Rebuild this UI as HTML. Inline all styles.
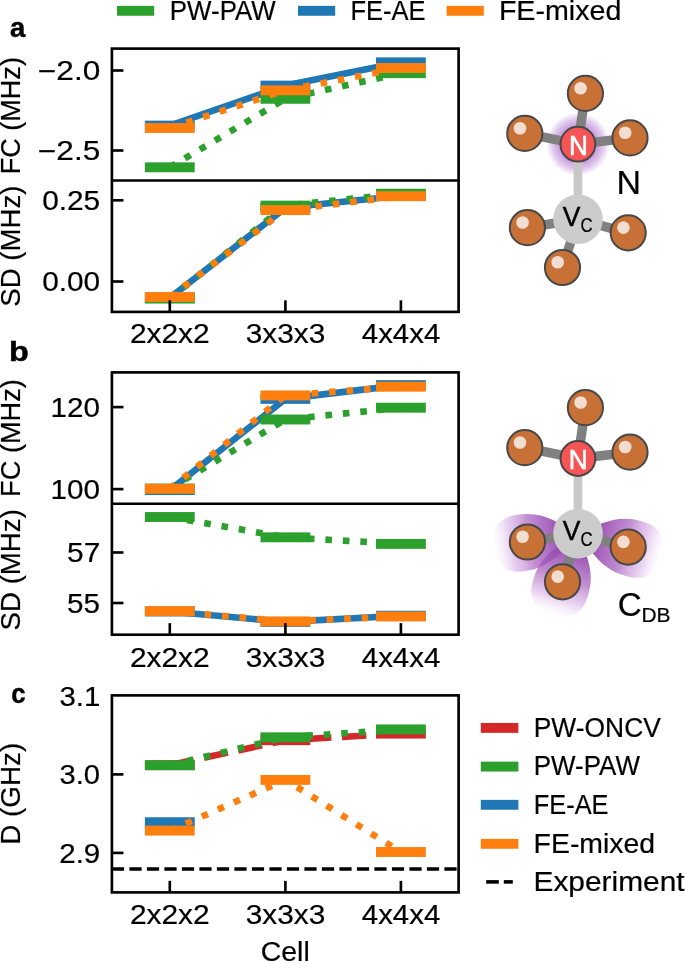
<!DOCTYPE html><html><head><meta charset="utf-8"><style>html,body{margin:0;padding:0;background:#fff;}svg{display:block;will-change:transform;}text{font-family:"Liberation Sans",sans-serif;}</style></head><body>
<svg width="685" height="963" viewBox="0 0 685 963">
<defs>
<radialGradient id="glow"><stop offset="0.55" stop-color="#b47ed4" stop-opacity="0.8"/><stop offset="0.8" stop-color="#c89ee0" stop-opacity="0.55"/><stop offset="0.93" stop-color="#dcc0ec" stop-opacity="0.3"/><stop offset="1" stop-color="#eee0f6" stop-opacity="0"/></radialGradient>
<linearGradient id="lobeg" gradientUnits="objectBoundingBox" x1="0" y1="0" x2="1" y2="0"><stop offset="0.2" stop-color="#9448ac" stop-opacity="0.95"/><stop offset="0.55" stop-color="#a860c0" stop-opacity="0.72"/><stop offset="0.8" stop-color="#c890dc" stop-opacity="0.42"/><stop offset="1" stop-color="#e8c8f4" stop-opacity="0"/></linearGradient>
</defs>
<rect width="685" height="963" fill="#fff"/>
<rect x="117" y="5.85" width="37.2" height="9.9" fill="#2ca02c"/>
<rect x="298" y="5.85" width="37.2" height="9.9" fill="#1f77b4"/>
<rect x="446.6" y="5.85" width="37.2" height="9.9" fill="#ff7f0e"/>
<rect x="144.90" y="120.65" width="49.80" height="9.90" fill="#1f77b4"/>
<rect x="260.50" y="80.65" width="49.80" height="9.90" fill="#1f77b4"/>
<rect x="376.00" y="57.35" width="49.80" height="9.90" fill="#1f77b4"/>
<polyline points="169.80,125.60 285.40,85.60 400.90,62.30" fill="none" stroke="#1f77b4" stroke-width="6.6" stroke-linejoin="round"/>
<rect x="144.90" y="162.35" width="49.80" height="9.90" fill="#2ca02c"/>
<rect x="260.50" y="93.85" width="49.80" height="9.90" fill="#2ca02c"/>
<rect x="376.00" y="68.25" width="49.80" height="9.90" fill="#2ca02c"/>
<polyline points="169.80,167.30 285.40,98.80 400.90,73.20" fill="none" stroke="#2ca02c" stroke-width="6.6" stroke-linejoin="round" stroke-dasharray="6.60 10.89"/>
<rect x="144.90" y="123.05" width="49.80" height="9.90" fill="#ff7f0e"/>
<rect x="260.50" y="85.35" width="49.80" height="9.90" fill="#ff7f0e"/>
<rect x="376.00" y="63.05" width="49.80" height="9.90" fill="#ff7f0e"/>
<polyline points="169.80,128.00 285.40,90.30 400.90,68.00" fill="none" stroke="#ff7f0e" stroke-width="6.6" stroke-linejoin="round" stroke-dasharray="6.60 10.89"/>
<rect x="144.90" y="292.85" width="49.80" height="9.90" fill="#1f77b4"/>
<rect x="260.50" y="202.85" width="49.80" height="9.90" fill="#1f77b4"/>
<rect x="376.00" y="190.85" width="49.80" height="9.90" fill="#1f77b4"/>
<polyline points="169.80,297.80 285.40,207.80 400.90,195.80" fill="none" stroke="#1f77b4" stroke-width="6.6" stroke-linejoin="round"/>
<rect x="144.90" y="293.65" width="49.80" height="9.90" fill="#2ca02c"/>
<rect x="260.50" y="200.65" width="49.80" height="9.90" fill="#2ca02c"/>
<rect x="376.00" y="188.75" width="49.80" height="9.90" fill="#2ca02c"/>
<polyline points="169.80,298.60 285.40,205.60 400.90,193.70" fill="none" stroke="#2ca02c" stroke-width="6.6" stroke-linejoin="round" stroke-dasharray="6.60 10.89"/>
<rect x="144.90" y="292.05" width="49.80" height="9.90" fill="#ff7f0e"/>
<rect x="260.50" y="205.15" width="49.80" height="9.90" fill="#ff7f0e"/>
<rect x="376.00" y="191.25" width="49.80" height="9.90" fill="#ff7f0e"/>
<polyline points="169.80,297.00 285.40,210.10 400.90,196.20" fill="none" stroke="#ff7f0e" stroke-width="6.6" stroke-linejoin="round" stroke-dasharray="6.60 10.89"/>
<line x1="111.9" y1="180.5" x2="458.6" y2="180.5" stroke="#000" stroke-width="2.64"/>
<rect x="111.90" y="48.60" width="346.70" height="263.30" fill="none" stroke="#000" stroke-width="2.64"/>
<line x1="111.90" y1="70.50" x2="123.45" y2="70.50" stroke="#000" stroke-width="2.64"/>
<line x1="111.90" y1="150.50" x2="123.45" y2="150.50" stroke="#000" stroke-width="2.64"/>
<line x1="111.90" y1="200.30" x2="123.45" y2="200.30" stroke="#000" stroke-width="2.64"/>
<line x1="111.90" y1="281.50" x2="123.45" y2="281.50" stroke="#000" stroke-width="2.64"/>
<line x1="169.80" y1="311.90" x2="169.80" y2="300.35" stroke="#000" stroke-width="2.64"/>
<line x1="285.40" y1="311.90" x2="285.40" y2="300.35" stroke="#000" stroke-width="2.64"/>
<line x1="400.90" y1="311.90" x2="400.90" y2="300.35" stroke="#000" stroke-width="2.64"/>
<rect x="144.90" y="485.15" width="49.80" height="9.90" fill="#1f77b4"/>
<rect x="260.50" y="393.95" width="49.80" height="9.90" fill="#1f77b4"/>
<rect x="376.00" y="380.15" width="49.80" height="9.90" fill="#1f77b4"/>
<polyline points="169.80,490.10 285.40,398.90 400.90,385.10" fill="none" stroke="#1f77b4" stroke-width="6.6" stroke-linejoin="round"/>
<rect x="144.90" y="483.55" width="49.80" height="9.90" fill="#2ca02c"/>
<rect x="260.50" y="414.55" width="49.80" height="9.90" fill="#2ca02c"/>
<rect x="376.00" y="402.75" width="49.80" height="9.90" fill="#2ca02c"/>
<polyline points="169.80,488.50 285.40,419.50 400.90,407.70" fill="none" stroke="#2ca02c" stroke-width="6.6" stroke-linejoin="round" stroke-dasharray="6.60 10.89"/>
<rect x="144.90" y="483.85" width="49.80" height="9.90" fill="#ff7f0e"/>
<rect x="260.50" y="390.45" width="49.80" height="9.90" fill="#ff7f0e"/>
<rect x="376.00" y="381.75" width="49.80" height="9.90" fill="#ff7f0e"/>
<polyline points="169.80,488.80 285.40,395.40 400.90,386.70" fill="none" stroke="#ff7f0e" stroke-width="6.6" stroke-linejoin="round" stroke-dasharray="6.60 10.89"/>
<rect x="144.90" y="606.55" width="49.80" height="9.90" fill="#1f77b4"/>
<rect x="260.50" y="616.95" width="49.80" height="9.90" fill="#1f77b4"/>
<rect x="376.00" y="610.75" width="49.80" height="9.90" fill="#1f77b4"/>
<polyline points="169.80,611.50 285.40,621.90 400.90,615.70" fill="none" stroke="#1f77b4" stroke-width="6.6" stroke-linejoin="round"/>
<rect x="144.90" y="512.05" width="49.80" height="9.90" fill="#2ca02c"/>
<rect x="260.50" y="532.35" width="49.80" height="9.90" fill="#2ca02c"/>
<rect x="376.00" y="538.95" width="49.80" height="9.90" fill="#2ca02c"/>
<polyline points="169.80,517.00 285.40,537.30 400.90,543.90" fill="none" stroke="#2ca02c" stroke-width="6.6" stroke-linejoin="round" stroke-dasharray="6.60 10.89"/>
<rect x="144.90" y="606.15" width="49.80" height="9.90" fill="#ff7f0e"/>
<rect x="260.50" y="616.45" width="49.80" height="9.90" fill="#ff7f0e"/>
<rect x="376.00" y="611.55" width="49.80" height="9.90" fill="#ff7f0e"/>
<polyline points="169.80,611.10 285.40,621.40 400.90,616.50" fill="none" stroke="#ff7f0e" stroke-width="6.6" stroke-linejoin="round" stroke-dasharray="6.60 10.89"/>
<line x1="111.9" y1="503.8" x2="458.6" y2="503.8" stroke="#000" stroke-width="2.64"/>
<rect x="111.90" y="372.40" width="346.70" height="262.30" fill="none" stroke="#000" stroke-width="2.64"/>
<line x1="111.90" y1="407.10" x2="123.45" y2="407.10" stroke="#000" stroke-width="2.64"/>
<line x1="111.90" y1="489.10" x2="123.45" y2="489.10" stroke="#000" stroke-width="2.64"/>
<line x1="111.90" y1="552.50" x2="123.45" y2="552.50" stroke="#000" stroke-width="2.64"/>
<line x1="111.90" y1="603.00" x2="123.45" y2="603.00" stroke="#000" stroke-width="2.64"/>
<line x1="169.80" y1="634.70" x2="169.80" y2="623.15" stroke="#000" stroke-width="2.64"/>
<line x1="285.40" y1="634.70" x2="285.40" y2="623.15" stroke="#000" stroke-width="2.64"/>
<line x1="400.90" y1="634.70" x2="400.90" y2="623.15" stroke="#000" stroke-width="2.64"/>
<rect x="144.90" y="760.25" width="49.80" height="9.90" fill="#d62728"/>
<rect x="260.50" y="735.25" width="49.80" height="9.90" fill="#d62728"/>
<rect x="376.00" y="728.65" width="49.80" height="9.90" fill="#d62728"/>
<polyline points="169.80,765.20 285.40,740.20 400.90,733.60" fill="none" stroke="#d62728" stroke-width="6.6" stroke-linejoin="round" stroke-dasharray="24.42 10.56"/>
<rect x="144.90" y="817.25" width="49.80" height="9.90" fill="#1f77b4"/>
<rect x="144.90" y="760.25" width="49.80" height="9.90" fill="#2ca02c"/>
<rect x="260.50" y="732.35" width="49.80" height="9.90" fill="#2ca02c"/>
<rect x="376.00" y="724.45" width="49.80" height="9.90" fill="#2ca02c"/>
<polyline points="169.80,765.20 285.40,737.30 400.90,729.40" fill="none" stroke="#2ca02c" stroke-width="6.6" stroke-linejoin="round" stroke-dasharray="6.60 10.89"/>
<rect x="144.90" y="825.65" width="49.80" height="9.90" fill="#ff7f0e"/>
<rect x="260.50" y="774.95" width="49.80" height="9.90" fill="#ff7f0e"/>
<rect x="376.00" y="847.05" width="49.80" height="9.90" fill="#ff7f0e"/>
<polyline points="169.80,830.60 285.40,779.90 400.90,852.00" fill="none" stroke="#ff7f0e" stroke-width="6.6" stroke-linejoin="round" stroke-dasharray="6.60 10.89"/>
<line x1="111.9" y1="869.0" x2="458.6" y2="869.0" stroke="#000" stroke-width="3.3" stroke-dasharray="12.2 5.3"/>
<rect x="111.90" y="695.40" width="346.70" height="197.00" fill="none" stroke="#000" stroke-width="2.64"/>
<line x1="111.90" y1="774.40" x2="123.45" y2="774.40" stroke="#000" stroke-width="2.64"/>
<line x1="111.90" y1="852.90" x2="123.45" y2="852.90" stroke="#000" stroke-width="2.64"/>
<line x1="169.80" y1="892.40" x2="169.80" y2="880.85" stroke="#000" stroke-width="2.64"/>
<line x1="285.40" y1="892.40" x2="285.40" y2="880.85" stroke="#000" stroke-width="2.64"/>
<line x1="400.90" y1="892.40" x2="400.90" y2="880.85" stroke="#000" stroke-width="2.64"/>
<rect x="480.8" y="722.95" width="37.6" height="9.9" fill="#d62728"/>
<rect x="480.8" y="761.65" width="37.6" height="9.9" fill="#2ca02c"/>
<rect x="480.8" y="799.85" width="37.6" height="9.9" fill="#1f77b4"/>
<rect x="480.8" y="838.85" width="37.6" height="9.9" fill="#ff7f0e"/>
<rect x="486.2" y="880.1" width="12.6" height="3.6" fill="#000"/>
<rect x="503.8" y="880.1" width="9.0" height="3.6" fill="#000"/>
<circle cx="577.9" cy="144.2" r="32" fill="url(#glow)"/>
<line x1="577.9" y1="144.2" x2="585.4" y2="93.4" stroke="#808080" stroke-width="9.5"/>
<line x1="577.9" y1="144.2" x2="524.8" y2="133.4" stroke="#808080" stroke-width="9.5"/>
<line x1="577.9" y1="144.2" x2="630.0" y2="137.9" stroke="#808080" stroke-width="9.5"/>
<line x1="578.0" y1="219.3" x2="527.4" y2="227.7" stroke="#808080" stroke-width="9.5"/>
<line x1="578.0" y1="219.3" x2="628.2" y2="232.8" stroke="#808080" stroke-width="9.5"/>
<line x1="578.0" y1="219.3" x2="562.5" y2="267.5" stroke="#808080" stroke-width="9.5"/>
<line x1="577.9" y1="144.2" x2="578.0" y2="219.3" stroke="#c8c8c8" stroke-width="8.6"/>
<circle cx="585.40" cy="93.40" r="17.6" fill="#c87137" stroke="#484848" stroke-width="2"/>
<circle cx="580.60" cy="88.20" r="6.3" fill="#f3ddd0"/>
<circle cx="524.80" cy="133.40" r="17.6" fill="#c87137" stroke="#484848" stroke-width="2"/>
<circle cx="520.00" cy="128.20" r="6.3" fill="#f3ddd0"/>
<circle cx="630.00" cy="137.90" r="17.6" fill="#c87137" stroke="#484848" stroke-width="2"/>
<circle cx="625.20" cy="132.70" r="6.3" fill="#f3ddd0"/>
<circle cx="527.40" cy="227.70" r="17.6" fill="#c87137" stroke="#484848" stroke-width="2"/>
<circle cx="522.60" cy="222.50" r="6.3" fill="#f3ddd0"/>
<circle cx="628.20" cy="232.80" r="17.6" fill="#c87137" stroke="#484848" stroke-width="2"/>
<circle cx="623.40" cy="227.60" r="6.3" fill="#f3ddd0"/>
<circle cx="562.50" cy="267.50" r="17.6" fill="#c87137" stroke="#484848" stroke-width="2"/>
<circle cx="557.70" cy="262.30" r="6.3" fill="#f3ddd0"/>
<circle cx="577.9" cy="144.2" r="17.4" fill="#f75456" stroke="#484848" stroke-width="2"/>
<circle cx="578.0" cy="219.3" r="24.8" fill="#cccccc"/>
<path transform="translate(578.00,533.60) rotate(170.57)" d="M 0 0 C 20.1 -15.7, 31.5 -28.5, 57.3 -28.5 C 81.3 -28.5, 85.3 -14.2, 85.3 0 C 85.3 14.2, 81.3 28.5, 57.3 28.5 C 31.5 28.5, 20.1 15.7, 0 0 Z" fill="url(#lobeg)"/>
<path transform="translate(578.00,533.60) rotate(15.05)" d="M 0 0 C 20.3 -15.7, 31.9 -28.5, 58.0 -28.5 C 82.0 -28.5, 86.0 -14.2, 86.0 0 C 86.0 14.2, 82.0 28.5, 58.0 28.5 C 31.9 28.5, 20.3 15.7, 0 0 Z" fill="url(#lobeg)"/>
<path transform="translate(578.00,533.60) rotate(107.83)" d="M 0 0 C 19.8 -15.7, 31.1 -28.5, 56.6 -28.5 C 80.6 -28.5, 84.6 -14.2, 84.6 0 C 84.6 14.2, 80.6 28.5, 56.6 28.5 C 31.1 28.5, 19.8 15.7, 0 0 Z" fill="url(#lobeg)"/>
<line x1="577.9" y1="458.5" x2="585.4" y2="407.70000000000005" stroke="#808080" stroke-width="9.5"/>
<line x1="577.9" y1="458.5" x2="524.8" y2="447.70000000000005" stroke="#808080" stroke-width="9.5"/>
<line x1="577.9" y1="458.5" x2="630.0" y2="452.20000000000005" stroke="#808080" stroke-width="9.5"/>
<line x1="578.0" y1="533.6" x2="527.4" y2="542.0" stroke="#808080" stroke-width="9.5"/>
<line x1="578.0" y1="533.6" x2="628.2" y2="547.1" stroke="#808080" stroke-width="9.5"/>
<line x1="578.0" y1="533.6" x2="562.5" y2="581.8" stroke="#808080" stroke-width="9.5"/>
<line x1="577.9" y1="458.5" x2="578.0" y2="533.6" stroke="#c8c8c8" stroke-width="8.6"/>
<circle cx="585.40" cy="407.70" r="17.6" fill="#c87137" stroke="#484848" stroke-width="2"/>
<circle cx="580.60" cy="402.50" r="6.3" fill="#f3ddd0"/>
<circle cx="524.80" cy="447.70" r="17.6" fill="#c87137" stroke="#484848" stroke-width="2"/>
<circle cx="520.00" cy="442.50" r="6.3" fill="#f3ddd0"/>
<circle cx="630.00" cy="452.20" r="17.6" fill="#c87137" stroke="#484848" stroke-width="2"/>
<circle cx="625.20" cy="447.00" r="6.3" fill="#f3ddd0"/>
<circle cx="527.40" cy="542.00" r="17.6" fill="#c87137" stroke="#484848" stroke-width="2"/>
<circle cx="522.60" cy="536.80" r="6.3" fill="#f3ddd0"/>
<circle cx="628.20" cy="547.10" r="17.6" fill="#c87137" stroke="#484848" stroke-width="2"/>
<circle cx="623.40" cy="541.90" r="6.3" fill="#f3ddd0"/>
<circle cx="562.50" cy="581.80" r="17.6" fill="#c87137" stroke="#484848" stroke-width="2"/>
<circle cx="557.70" cy="576.60" r="6.3" fill="#f3ddd0"/>
<circle cx="577.9" cy="458.5" r="17.4" fill="#f75456" stroke="#484848" stroke-width="2"/>
<circle cx="578.0" cy="533.6" r="24.8" fill="#cccccc"/>
<text x="169.83" y="19.50" font-size="26.8" font-weight="normal" textLength="105.94" lengthAdjust="spacingAndGlyphs" stroke="#000" stroke-width="0.2">PW-PAW</text>
<text x="350.46" y="19.50" font-size="26.8" font-weight="normal" textLength="75.05" lengthAdjust="spacingAndGlyphs" stroke="#000" stroke-width="0.2">FE-AE</text>
<text x="498.90" y="19.50" font-size="26.8" font-weight="normal" textLength="122.47" lengthAdjust="spacingAndGlyphs" stroke="#000" stroke-width="0.2">FE-mixed</text>
<text x="9.88" y="36.60" font-size="28.5" font-weight="bold" textLength="15.29" lengthAdjust="spacingAndGlyphs" stroke="#000" stroke-width="0.5">a</text>
<text x="8.93" y="360.50" font-size="28.5" font-weight="bold" textLength="19.81" lengthAdjust="spacingAndGlyphs" stroke="#000" stroke-width="0.5">b</text>
<text x="11.20" y="703.40" font-size="28.5" font-weight="bold" textLength="14.27" lengthAdjust="spacingAndGlyphs" stroke="#000" stroke-width="0.5">c</text>
<text x="37.93" y="80.10" font-size="26.8" font-weight="normal" textLength="62.34" lengthAdjust="spacingAndGlyphs" stroke="#000" stroke-width="0.2">−2.0</text>
<text x="37.93" y="160.10" font-size="26.8" font-weight="normal" textLength="62.34" lengthAdjust="spacingAndGlyphs" stroke="#000" stroke-width="0.2">−2.5</text>
<text x="42.19" y="210.00" font-size="26.8" font-weight="normal" textLength="58.00" lengthAdjust="spacingAndGlyphs" stroke="#000" stroke-width="0.2">0.25</text>
<text x="42.19" y="291.40" font-size="26.8" font-weight="normal" textLength="58.00" lengthAdjust="spacingAndGlyphs" stroke="#000" stroke-width="0.2">0.00</text>
<text x="50.49" y="416.80" font-size="26.8" font-weight="normal" textLength="49.49" lengthAdjust="spacingAndGlyphs" stroke="#000" stroke-width="0.2">120</text>
<text x="50.49" y="499.00" font-size="26.8" font-weight="normal" textLength="49.49" lengthAdjust="spacingAndGlyphs" stroke="#000" stroke-width="0.2">100</text>
<text x="67.11" y="562.20" font-size="26.8" font-weight="normal" textLength="33.26" lengthAdjust="spacingAndGlyphs" stroke="#000" stroke-width="0.2">57</text>
<text x="67.12" y="613.00" font-size="26.8" font-weight="normal" textLength="32.96" lengthAdjust="spacingAndGlyphs" stroke="#000" stroke-width="0.2">55</text>
<text x="59.51" y="705.50" font-size="26.8" font-weight="normal" textLength="40.78" lengthAdjust="spacingAndGlyphs" stroke="#000" stroke-width="0.2">3.1</text>
<text x="59.51" y="784.20" font-size="26.8" font-weight="normal" textLength="40.49" lengthAdjust="spacingAndGlyphs" stroke="#000" stroke-width="0.2">3.0</text>
<text x="59.22" y="863.00" font-size="26.8" font-weight="normal" textLength="41.07" lengthAdjust="spacingAndGlyphs" stroke="#000" stroke-width="0.2">2.9</text>
<text x="129.91" y="343.00" font-size="26.8" font-weight="normal" textLength="79.81" lengthAdjust="spacingAndGlyphs" stroke="#000" stroke-width="0.2">2x2x2</text>
<text x="245.79" y="343.00" font-size="26.8" font-weight="normal" textLength="79.52" lengthAdjust="spacingAndGlyphs" stroke="#000" stroke-width="0.2">3x3x3</text>
<text x="361.85" y="343.00" font-size="26.8" font-weight="normal" textLength="78.39" lengthAdjust="spacingAndGlyphs" stroke="#000" stroke-width="0.2">4x4x4</text>
<text x="129.91" y="666.60" font-size="26.8" font-weight="normal" textLength="79.81" lengthAdjust="spacingAndGlyphs" stroke="#000" stroke-width="0.2">2x2x2</text>
<text x="245.79" y="666.60" font-size="26.8" font-weight="normal" textLength="79.52" lengthAdjust="spacingAndGlyphs" stroke="#000" stroke-width="0.2">3x3x3</text>
<text x="361.85" y="666.60" font-size="26.8" font-weight="normal" textLength="78.39" lengthAdjust="spacingAndGlyphs" stroke="#000" stroke-width="0.2">4x4x4</text>
<text x="129.91" y="924.00" font-size="26.8" font-weight="normal" textLength="79.81" lengthAdjust="spacingAndGlyphs" stroke="#000" stroke-width="0.2">2x2x2</text>
<text x="245.79" y="924.00" font-size="26.8" font-weight="normal" textLength="79.52" lengthAdjust="spacingAndGlyphs" stroke="#000" stroke-width="0.2">3x3x3</text>
<text x="361.85" y="924.00" font-size="26.8" font-weight="normal" textLength="78.39" lengthAdjust="spacingAndGlyphs" stroke="#000" stroke-width="0.2">4x4x4</text>
<text x="260.67" y="961.20" font-size="26.8" font-weight="normal" textLength="49.07" lengthAdjust="spacingAndGlyphs" stroke="#000" stroke-width="0.2">Cell</text>
<text x="533.79" y="736.60" font-size="26.8" font-weight="normal" textLength="126.99" lengthAdjust="spacingAndGlyphs" stroke="#000" stroke-width="0.2">PW-ONCV</text>
<text x="533.82" y="775.30" font-size="26.8" font-weight="normal" textLength="106.04" lengthAdjust="spacingAndGlyphs" stroke="#000" stroke-width="0.2">PW-PAW</text>
<text x="533.87" y="814.00" font-size="26.8" font-weight="normal" textLength="74.64" lengthAdjust="spacingAndGlyphs" stroke="#000" stroke-width="0.2">FE-AE</text>
<text x="533.62" y="852.70" font-size="26.8" font-weight="normal" textLength="121.44" lengthAdjust="spacingAndGlyphs" stroke="#000" stroke-width="0.2">FE-mixed</text>
<text x="533.49" y="891.40" font-size="26.8" font-weight="normal" textLength="151.12" lengthAdjust="spacingAndGlyphs" stroke="#000" stroke-width="0.2">Experiment</text>
<text x="616.55" y="194.30" font-size="32.8" font-weight="normal" textLength="24.53" lengthAdjust="spacingAndGlyphs" stroke="#000" stroke-width="0.2">N</text>
<text x="617.72" y="615.60" font-size="32.7" font-weight="normal" textLength="23.95" lengthAdjust="spacingAndGlyphs" stroke="#000" stroke-width="0.2">C</text>
<text x="641.45" y="621.70" font-size="20.9" font-weight="normal" textLength="29.09" lengthAdjust="spacingAndGlyphs" stroke="#000" stroke-width="0.2">DB</text>
<text x="568.96" y="154.50" font-size="27.5" font-weight="normal" textLength="18.90" lengthAdjust="spacingAndGlyphs" fill="#fff" stroke="#fff" stroke-width="0.6">N</text>
<text x="568.76" y="469.30" font-size="27.5" font-weight="normal" textLength="18.90" lengthAdjust="spacingAndGlyphs" fill="#fff" stroke="#fff" stroke-width="0.6">N</text>
<text x="562.67" y="225.80" font-size="28.5" font-weight="normal" textLength="17.58" lengthAdjust="spacingAndGlyphs" stroke="#000" stroke-width="0.5">V</text>
<text x="580.44" y="231.70" font-size="19.6" font-weight="normal" textLength="12.13" lengthAdjust="spacingAndGlyphs" stroke="#000" stroke-width="0.2">C</text>
<text x="562.67" y="540.10" font-size="28.5" font-weight="normal" textLength="17.58" lengthAdjust="spacingAndGlyphs" stroke="#000" stroke-width="0.5">V</text>
<text x="580.44" y="546.00" font-size="19.6" font-weight="normal" textLength="12.13" lengthAdjust="spacingAndGlyphs" stroke="#000" stroke-width="0.2">C</text>
<text transform="translate(19.80,174.27) rotate(-90)" x="0" y="0" font-size="26.8" font-weight="normal" textLength="117.18" lengthAdjust="spacingAndGlyphs" stroke="#000" stroke-width="0.2">FC (MHz)</text>
<text transform="translate(19.80,306.69) rotate(-90)" x="0" y="0" font-size="26.8" font-weight="normal" textLength="121.13" lengthAdjust="spacingAndGlyphs" stroke="#000" stroke-width="0.2">SD (MHz)</text>
<text transform="translate(19.80,496.88) rotate(-90)" x="0" y="0" font-size="26.8" font-weight="normal" textLength="117.70" lengthAdjust="spacingAndGlyphs" stroke="#000" stroke-width="0.2">FC (MHz)</text>
<text transform="translate(19.80,630.39) rotate(-90)" x="0" y="0" font-size="26.8" font-weight="normal" textLength="121.23" lengthAdjust="spacingAndGlyphs" stroke="#000" stroke-width="0.2">SD (MHz)</text>
<text transform="translate(19.80,844.74) rotate(-90)" x="0" y="0" font-size="26.8" font-weight="normal" textLength="102.05" lengthAdjust="spacingAndGlyphs" stroke="#000" stroke-width="0.2">D (GHz)</text>
</svg></body></html>
